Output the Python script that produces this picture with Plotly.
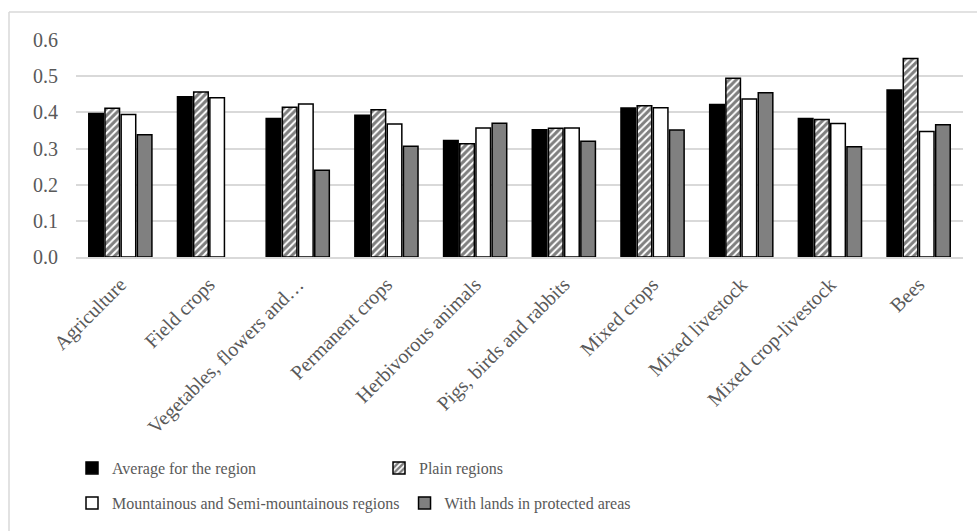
import plotly.graph_objects as go

categories = [
    "Agriculture", "Field crops", "Vegetables, flowers and…", "Permanent crops",
    "Herbivorous animals", "Pigs, birds and rabbits", "Mixed crops",
    "Mixed livestock", "Mixed crop-livestock", "Bees",
]
average_region = [0.397, 0.443, 0.383, 0.392, 0.322, 0.352, 0.412, 0.422, 0.383, 0.462]
plain_regions = [0.411, 0.456, 0.414, 0.407, 0.313, 0.356, 0.418, 0.494, 0.380, 0.549]
mountain_regions = [0.394, 0.440, 0.423, 0.368, 0.357, 0.357, 0.413, 0.437, 0.369, 0.347]
# no value reported for field crops in protected areas
protected_areas = [0.338, None, 0.240, 0.306, 0.370, 0.320, 0.351, 0.454, 0.305, 0.366]
y_ticks = [0.0, 0.1, 0.2, 0.3, 0.4, 0.5, 0.6]

FONT = "Liberation Serif, Times New Roman, serif"
TXT = "#595959"
GRID = "#d9d9d9"

W, H = 977, 531
L, R, T, B = 76, 14, 40, 274
pw, ph = W - L - R, H - T - B

fig = go.Figure()
outline = dict(color="black", width=1.5)

fig.add_trace(go.Bar(
    name="Average for the region", x=categories, y=average_region,
    marker=dict(color="black", line=outline), legend="legend",
))
fig.add_trace(go.Bar(
    name="Plain regions", x=categories, y=plain_regions,
    marker=dict(color="white", line=outline,
                pattern=dict(shape="/", fgcolor="black", bgcolor="white",
                             size=5, solidity=0.6)),
    legend="legend",
))
fig.add_trace(go.Bar(
    name="Mountainous and Semi-mountainous regions", x=categories, y=mountain_regions,
    marker=dict(color="white", line=outline), legend="legend2",
))
fig.add_trace(go.Bar(
    name="With lands in protected areas", x=categories, y=protected_areas,
    marker=dict(color="#808080", line=outline), legend="legend2",
))

def px_x(p):
    return (p - L) / pw

def px_y(p):
    return (H - B - p) / ph

legend_common = dict(
    orientation="h", xanchor="left", yanchor="middle",
    font=dict(family=FONT, size=16, color=TXT),
    bgcolor="rgba(0,0,0,0)", itemwidth=30, traceorder="normal",
    itemclick=False, itemdoubleclick=False,
)

fig.update_layout(
    width=W, height=H,
    margin=dict(l=L, r=R, t=T, b=B),
    paper_bgcolor="white", plot_bgcolor="white",
    barmode="group", bargap=0.27, bargroupgap=0.1,
    font=dict(family=FONT, size=18, color=TXT),
    xaxis=dict(
        tickangle=-45, tickfont=dict(family=FONT, size=20, color=TXT),
        showgrid=False, showline=True, linecolor=GRID, linewidth=2,
        ticks="", automargin=False, ticklabelstandoff=6,
    ),
    yaxis=dict(
        range=[0, 0.6], tickvals=y_ticks, tickformat=".1f",
        tickfont=dict(family=FONT, size=20, color=TXT),
        showgrid=True, gridcolor=GRID, gridwidth=1.5,
        zeroline=False, showline=False, ticks="", automargin=False,
        ticklabelstandoff=17,
    ),
    legend=dict(legend_common, x=px_x(72), y=px_y(468), entrywidth=262),
    legend2=dict(legend_common, x=px_x(72), y=px_y(503)),
    shapes=[
        dict(type="line", xref="paper", yref="paper",
             x0=px_x(9), x1=px_x(W + 5), y0=px_y(12), y1=px_y(12),
             line=dict(color=GRID, width=1.5)),
        dict(type="line", xref="paper", yref="paper",
             x0=px_x(9), x1=px_x(9), y0=px_y(12), y1=px_y(H + 5),
             line=dict(color=GRID, width=1.5)),
    ],
)

fig.write_html("out.html")
